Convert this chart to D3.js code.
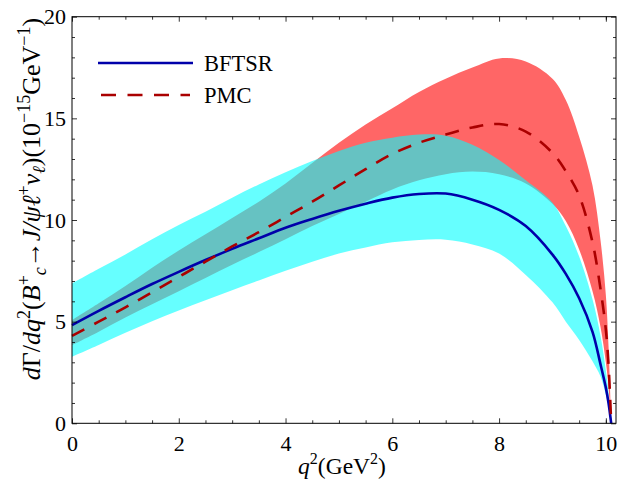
<!DOCTYPE html>
<html>
<head>
<meta charset="utf-8">
<script src="https://cdn.jsdelivr.net/npm/d3@7"></script>
<style>
  body { margin: 0; background: #fff; }
  text { font-family: "Liberation Serif", "Times New Roman", serif; fill: #000; }
</style>
</head>
<body>
<svg id="chart" width="618" height="489"></svg>
<script>
// q^2 sample points (GeV^2)
const q2 = [0, 0.5, 1, 1.5, 2, 2.5, 3, 3.5, 4, 4.5, 5, 5.5, 6, 6.5, 7, 7.5, 8, 8.5, 9, 9.25, 9.5, 9.75, 9.9, 10, 10.05, 10.1];

// BFTSR central value and band
const bftsr   = [4.83, 5.53, 6.2, 6.85, 7.45, 8.03, 8.58, 9.1, 9.62, 10.05, 10.45, 10.8, 11.1, 11.28, 11.3, 11.0, 10.5, 9.7, 8.3, 7.35, 6.15, 4.5, 2.9, 1.75, 1.0, 0];
const bftsrHi = [6.88, 7.6, 8.3, 9.05, 9.75, 10.4, 11.1, 11.75, 12.35, 12.9, 13.4, 13.8, 14.05, 14.2, 14.15, 13.7, 12.95, 11.95, 10.85, 9.7, 8.2, 6.1, 4.3, 2.6, 1.5, 0];
const bftsrLo = [3.27, 3.85, 4.45, 5.02, 5.55, 6.05, 6.55, 7.02, 7.5, 7.95, 8.35, 8.65, 8.9, 9.02, 9.03, 8.8, 8.35, 7.3, 5.95, 5.0, 4.1, 3.05, 2.3, 1.4, 0.8, 0];

// PMC central value and band
const pmc   = [4.3, 5.0, 5.7, 6.45, 7.2, 7.95, 8.7, 9.4, 10.15, 10.9, 11.7, 12.5, 13.25, 13.8, 14.2, 14.55, 14.72, 14.35, 13.3, 12.4, 11.2, 8.9, 6.6, 4.6, 2.9, 0];
const pmcHi = [5.07, 5.9, 6.75, 7.65, 8.5, 9.3, 10.1, 10.9, 11.8, 12.8, 13.8, 14.7, 15.5, 16.3, 16.95, 17.5, 17.95, 17.8, 16.95, 15.9, 14.1, 11.7, 9.0, 6.3, 3.8, 0];
const pmcLo = [3.84, 4.5, 5.2, 5.85, 6.5, 7.15, 7.8, 8.42, 9.05, 9.7, 10.3, 10.9, 11.5, 11.95, 12.25, 12.38, 12.25, 11.8, 10.8, 9.95, 8.55, 6.5, 4.74, 3.0, 1.8, 0];

// axis ticks
const xTicks = [0, 2, 4, 6, 8, 10];
const xMinor = [0.5, 1, 1.5, 2.5, 3, 3.5, 4.5, 5, 5.5, 6.5, 7, 7.5, 8.5, 9, 9.5, 10];
const yTicks = [0, 5, 10, 15, 20];
const yMinor = [1, 2, 3, 4, 6, 7, 8, 9, 11, 12, 13, 14, 16, 17, 18, 19];

const legendItems = ['BFTSR', 'PMC'];

const svg = d3.select('#chart'),
    margin = { left: 72, right: 616, top: 16.7, bottom: 423.3 };

const x = d3.scaleLinear().domain([0, 10.19]).range([margin.left, margin.right]);
const y = d3.scaleLinear().domain([0, 20]).range([margin.bottom, margin.top]);

const rows = q2.map((q, i) => ({
    q: q, b: bftsr[i], bh: bftsrHi[i], bl: bftsrLo[i],
    p: pmc[i], ph: pmcHi[i], pl: pmcLo[i]
}));

const curve = d3.curveCatmullRom.alpha(0.5);

// bands: red first, cyan over it
svg.append('path')
    .datum(rows)
    .attr('fill', '#ff0000')
    .attr('fill-opacity', 0.6)
    .attr('d', d3.area().curve(curve).x(d => x(d.q)).y0(d => y(d.pl)).y1(d => y(d.ph)));

svg.append('path')
    .datum(rows)
    .attr('fill', '#00ffff')
    .attr('fill-opacity', 0.6)
    .attr('d', d3.area().curve(curve).x(d => x(d.q)).y0(d => y(d.bl)).y1(d => y(d.bh)));

// central lines
svg.append('path')
    .datum(rows)
    .attr('fill', 'none')
    .attr('stroke', '#0000aa')
    .attr('stroke-width', 2.6)
    .attr('d', d3.line().curve(curve).x(d => x(d.q)).y(d => y(d.b)));

svg.append('path')
    .datum(rows)
    .attr('fill', 'none')
    .attr('stroke', '#aa0000')
    .attr('stroke-width', 2.6)
    .attr('stroke-dasharray', '14,11')
    .attr('d', d3.line().curve(curve).x(d => x(d.q)).y(d => y(d.p)));

// frame with inward ticks on all four sides
function frameAxis(axis, tf, values, size, labels) {
    const g = svg.append('g')
        .attr('transform', tf)
        .call(axis.tickValues(values).tickSize(size).tickPadding(12)
            .tickFormat(labels ? d3.format('d') : ''));
    g.attr('font-family', '"Liberation Serif", serif');
    g.select('.domain').remove();
    g.selectAll('line').attr('stroke', '#000').attr('stroke-width', 0.8);
    g.selectAll('text').style('font-size', '22px').style('font-family', '"Liberation Serif", serif');
    return g;
}

frameAxis(d3.axisBottom(x), `translate(0,${margin.bottom})`, xTicks, -5, true);
frameAxis(d3.axisBottom(x), `translate(0,${margin.bottom})`, xMinor, -3, false);
frameAxis(d3.axisTop(x), `translate(0,${margin.top})`, xTicks, -5, false);
frameAxis(d3.axisTop(x), `translate(0,${margin.top})`, xMinor, -3, false);
const yl = frameAxis(d3.axisLeft(y), `translate(${margin.left},0)`, yTicks, -5, true);
yl.selectAll('text').attr('x', -6);
frameAxis(d3.axisLeft(y), `translate(${margin.left},0)`, yMinor, -3, false);
frameAxis(d3.axisRight(y), `translate(${margin.right},0)`, yTicks, -5, false);
frameAxis(d3.axisRight(y), `translate(${margin.right},0)`, yMinor, -3, false);

svg.append('rect')
    .attr('x', margin.left).attr('y', margin.top)
    .attr('width', margin.right - margin.left).attr('height', margin.bottom - margin.top)
    .attr('fill', 'none').attr('stroke', '#000').attr('stroke-width', 1);

// legend
const legend = svg.append('g');
legend.append('line')
    .attr('x1', 98).attr('x2', 193).attr('y1', 63).attr('y2', 63)
    .attr('stroke', '#0000aa').attr('stroke-width', 2.6);
legend.append('line')
    .attr('x1', 101).attr('x2', 190).attr('y1', 95).attr('y2', 95)
    .attr('stroke', '#aa0000').attr('stroke-width', 2.6)
    .attr('stroke-dasharray', '15,11.5');
legend.selectAll('text.lg')
    .data(legendItems)
    .enter().append('text')
    .attr('class', 'lg')
    .attr('x', 204)
    .attr('y', (d, i) => 71 + i * 32)
    .style('font-size', '22.5px')
    .text(d => d);

// x axis title
const xt = svg.append('text')
    .attr('x', 342).attr('y', 474)
    .attr('text-anchor', 'middle')
    .style('font-size', '23.5px');
xt.append('tspan').style('font-style', 'italic').text('q');
xt.append('tspan').attr('dy', -10).style('font-size', '16px').text('2');
xt.append('tspan').attr('dy', 10).text('(GeV');
xt.append('tspan').attr('dy', -10).style('font-size', '16px').text('2');
xt.append('tspan').attr('dy', 10).text(')');

// y axis title
const yt = svg.append('text')
    .attr('transform', 'translate(40,199) rotate(-90)')
    .attr('text-anchor', 'middle')
    .style('font-size', '26px');
function part(t, opt) {
    const s = yt.append('tspan').text(t);
    if (opt && opt.i) s.style('font-style', 'italic');
    if (opt && opt.dy) s.attr('dy', opt.dy);
    if (opt && opt.fs) s.style('font-size', opt.fs);
    return s;
}
part('d', { i: 1 }); part('Γ/'); part('dq', { i: 1 });
part('2', { dy: -10, fs: '18px' });
part('(', { dy: 10 }); part('B', { i: 1 });
part('+', { dy: -10, fs: '18px' });
part('c', { i: 1, dy: 16, fs: '18px' });
part('→', { dy: -6 });
part('J/ψℓ', { i: 1 });
part('+', { dy: -10, fs: '18px' });
part('ν', { i: 1, dy: 10 });
part('ℓ', { i: 1, dy: 5, fs: '18px' });
part(')(10', { dy: -5 });
part('−15', { dy: -10, fs: '18px' });
part('GeV', { dy: 10 });
part('−1', { dy: -10, fs: '18px' });
part(')', { dy: 10 });
</script>
</body>
</html>
